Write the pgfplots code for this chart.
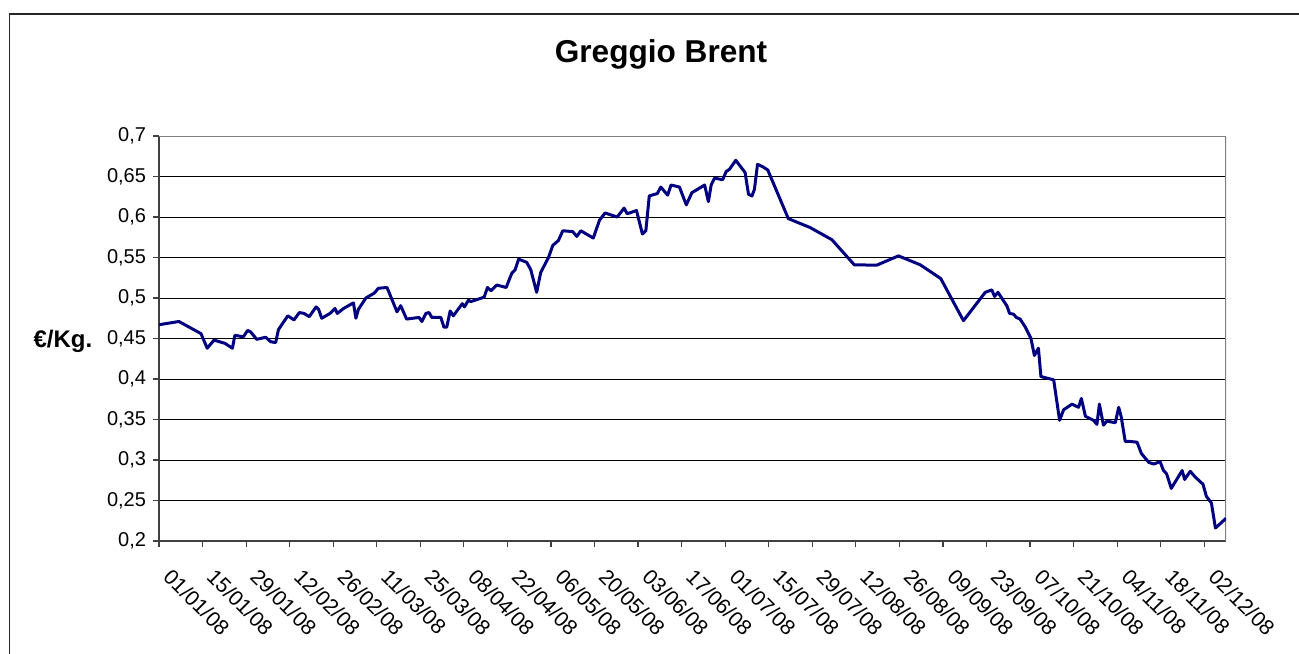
\documentclass[border=0pt]{standalone}
\usepackage{fontspec}
\setmainfont{Liberation Sans}
\usepackage{pgfplots}
\pgfplotsset{compat=1.18}
\definecolor{navyline}{RGB}{0,0,128}
\begin{document}
\begin{tikzpicture}
\path[use as bounding box] (0,0) rectangle (649.5bp,327bp);
% chart area border (only top and left are inside the picture)
\draw[black!85, line width=0.6bp] (4.75bp,-1bp) -- (4.75bp,320bp) -- (651bp,320bp);
\begin{axis}[
    at={(79.5bp,56.5bp)}, anchor=south west,
    scale only axis, width=533.5bp, height=202.5bp,
    xmin=0, xmax=343, ymin=0.2, ymax=0.7,
    axis x line*=bottom, axis y line*=left,
    axis line style={black!75, line width=1bp},
    xtick={0,14,...,336},
    xticklabels={01/01/08,15/01/08,29/01/08,12/02/08,26/02/08,11/03/08,25/03/08,08/04/08,22/04/08,06/05/08,20/05/08,03/06/08,17/06/08,01/07/08,15/07/08,29/07/08,12/08/08,26/08/08,09/09/08,23/09/08,07/10/08,21/10/08,04/11/08,18/11/08,02/12/08},
    ytick={0.2,0.25,0.3,0.35,0.4,0.45,0.5,0.55,0.6,0.65,0.7},
    tick align=outside, major tick length=3bp,
    tick style={black!75, line width=0.6bp},
    ymajorgrids, grid style={black, line width=0.5bp},
    /pgf/number format/assume math mode=true,
    yticklabel style={/pgf/number format/.cd, fixed, use comma, precision=2},
    ticklabel style={font=\fontsize{10bp}{12bp}\selectfont},
    xticklabel style={font=\fontsize{10.6bp}{12bp}\selectfont, xshift=7bp, yshift=-10bp, rotate=-45, anchor=north west, inner sep=0pt},
    title={Greggio Brent},
    title style={font=\fontsize{15.8bp}{18bp}\selectfont\bfseries, at={(0.4705,1.172)}, anchor=center},
    ylabel={€/Kg.},
    ylabel style={font=\fontsize{12bp}{14bp}\selectfont\bfseries, rotate=-90, at={(-0.09,0.493)}, anchor=center},
]
\draw[gray, line width=1bp] (rel axis cs:0,1) -- (rel axis cs:1,1) -- (rel axis cs:1,0);
% Brent crude, EUR per kg, 2008 (x = days since 01/01/08)
\addplot[navyline, line width=1.5bp, line join=round] coordinates {
(0,0.467)(6.4,0.471)(13.5,0.456)(15.5,0.438)(17.7,0.448)(21.2,0.444)
(23.6,0.438)(24.4,0.454)(27.1,0.452)(28.5,0.460)(29.5,0.458)(31.4,0.449)
(34.3,0.4515)(35.9,0.446)(37.5,0.445)(38.4,0.461)(41.4,0.478)(43.4,0.473)
(45.1,0.482)(46.6,0.481)(48.3,0.477)(50.5,0.489)(51.3,0.486)(52.3,0.475)
(55.0,0.481)(56.6,0.487)(57.3,0.481)(59.3,0.487)(62.5,0.494)(63.3,0.475)
(64.1,0.486)(66.5,0.500)(69.2,0.506)(70.5,0.512)(73.3,0.513)(76.5,0.483)
(77.7,0.4905)(79.6,0.474)(83.6,0.476)(84.5,0.471)(85.8,0.481)(86.8,0.482)
(87.7,0.476)(90.6,0.476)(91.6,0.464)(92.5,0.464)(93.6,0.484)(94.6,0.478)
(97.5,0.493)(98.2,0.489)(99.5,0.4975)(100.2,0.4955)(104.5,0.501)(105.6,0.513)
(106.7,0.509)(108.6,0.516)(111.6,0.513)(113.4,0.5305)(114.5,0.535)(115.6,0.548)
(118.2,0.544)(119.5,0.535)(121.4,0.507)(122.7,0.5315)(125.2,0.550)(126.6,0.565)
(128.4,0.571)(129.8,0.583)(133.0,0.582)(134.3,0.576)(135.6,0.583)(139.6,0.574)
(141.6,0.596)(143.4,0.605)(147.3,0.600)(149.5,0.611)(150.5,0.604)(153.5,0.608)
(155.4,0.579)(156.5,0.583)(157.6,0.626)(160.2,0.629)(161.3,0.637)(163.5,0.627)
(164.6,0.6395)(167.3,0.637)(169.5,0.615)(171.3,0.630)(175.4,0.6395)(176.6,0.619)
(177.5,0.6395)(178.6,0.648)(181.2,0.646)(182.3,0.656)(183.4,0.659)(185.4,0.670)
(188.4,0.655)(189.5,0.628)(190.6,0.626)(191.4,0.634)(192.4,0.665)(194.1,0.662)
(195.7,0.658)(202.3,0.598)(209.3,0.587)(216.3,0.572)(223.5,0.541)(230.7,0.5405)
(237.7,0.552)(244.7,0.541)(251.3,0.524)(258.6,0.472)(265.6,0.507)(267.7,0.510)
(268.6,0.502)(269.7,0.507)(272.6,0.490)(273.4,0.481)(274.7,0.480)(275.6,0.476)
(276.8,0.474)(278.5,0.464)(280.3,0.450)(281.4,0.429)(282.7,0.438)(283.5,0.403)
(287.6,0.399)(289.5,0.349)(290.8,0.362)(293.5,0.369)(295.6,0.365)(296.5,0.376)
(297.8,0.354)(300.4,0.349)(301.5,0.344)(302.3,0.369)(303.6,0.343)(304.7,0.348)
(307.4,0.346)(308.5,0.365)(309.3,0.3535)(310.6,0.323)(311.9,0.323)(314.4,0.322)
(315.8,0.308)(318.2,0.297)(319.8,0.295)(321.8,0.298)(322.9,0.287)(323.9,0.283)
(325.4,0.265)(328.9,0.287)(329.7,0.276)(331.5,0.286)(333.1,0.279)(335.6,0.270)
(336.7,0.255)(338.3,0.247)(339.6,0.216)(343,0.228)
};
\end{axis}
\end{tikzpicture}
\end{document}
